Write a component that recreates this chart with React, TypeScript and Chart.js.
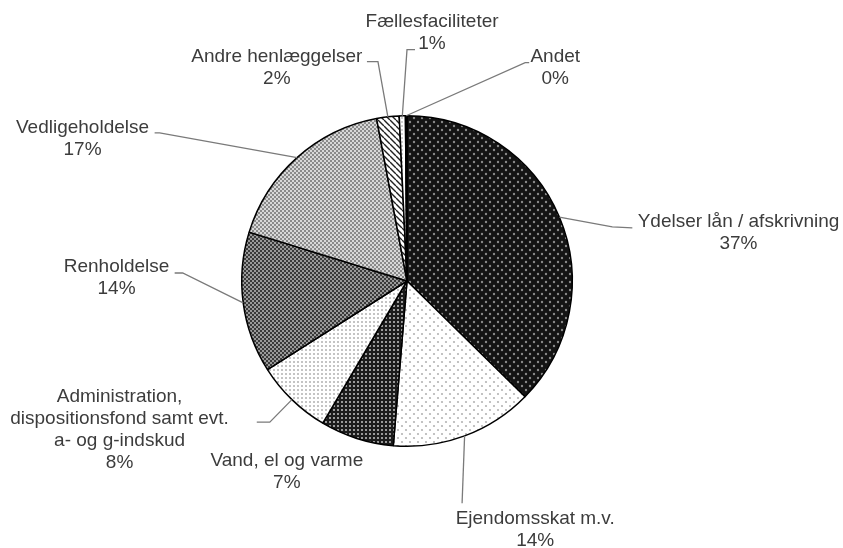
import React, { useEffect, useRef } from "react";
import { Chart, registerables } from "chart.js";
Chart.register(...registerables);

const categories = [
  "Ydelser lån / afskrivning",
  "Ejendomsskat m.v.",
  "Vand, el og varme",
  "Administration, dispositionsfond samt evt. a- og g-indskud",
  "Renholdelse",
  "Vedligeholdelse",
  "Andre henlæggelser",
  "Fællesfaciliteter",
  "Andet",
];
const shares = [37.4, 14.0, 7.2, 7.5, 13.8, 17.3, 2.2, 0.6, 0.15];
const percentLabels = ["37%", "14%", "7%", "8%", "14%", "17%", "2%", "1%", "0%"];
const labelLines = [
  ["Ydelser lån / afskrivning"],
  ["Ejendomsskat m.v."],
  ["Vand, el og varme"],
  ["Administration,", "dispositionsfond samt evt.", "a- og g-indskud"],
  ["Renholdelse"],
  ["Vedligeholdelse"],
  ["Andre henlæggelser"],
  ["Fællesfaciliteter"],
  ["Andet"],
];

// layout (relative to pie centre, px at radius 165)
const labelCenters: [number, number][] = [
  [331, -59], [128, 237], [-120, 179], [-287, 116], [-290, -14],
  [-324, -153], [-130, -224], [25, -259], [148, -224],
];
const leaders: ([number, number][] | null)[] = [
  [[205, -54], [225, -53]],
  [[55, 222], [55, 222]],
  null,
  [[-137, 141], [-150, 141]],
  [[-224, -8], [-232, -8]],
  [[-247, -148], [-252, -148]],
  [[-29, -219], [-40, -219]],
  [[0, -231], [8, -231]],
  [[118, -218], [122, -218]],
];

function makeTile(size: number, draw: (c: CanvasRenderingContext2D) => void) {
  const cv = document.createElement("canvas");
  cv.width = size;
  cv.height = size;
  const c = cv.getContext("2d")!;
  draw(c);
  return c.createPattern(cv, "repeat")!;
}

function buildPatterns() {
  const dots = (bg: string, fg: string, r: number) =>
    makeTile(8, (c) => {
      c.fillStyle = bg;
      c.fillRect(0, 0, 8, 8);
      c.fillStyle = fg;
      for (const [x, y] of [[2, 2], [6, 6]]) {
        c.beginPath();
        c.arc(x, y, r, 0, Math.PI * 2);
        c.fill();
      }
    });
  const checker = (bg: string, fg: string) =>
    makeTile(4, (c) => {
      c.fillStyle = bg;
      c.fillRect(0, 0, 4, 4);
      c.fillStyle = fg;
      c.fillRect(0, 0, 2, 2);
      c.fillRect(2, 2, 2, 2);
    });
  const grid = (bg: string, fg: string) =>
    makeTile(4, (c) => {
      c.fillStyle = bg;
      c.fillRect(0, 0, 4, 4);
      c.fillStyle = fg;
      c.fillRect(1, 1, 2, 2);
    });
  const stripes = makeTile(6, (c) => {
    c.fillStyle = "#ffffff";
    c.fillRect(0, 0, 6, 6);
    c.strokeStyle = "#222";
    c.lineWidth = 1.4;
    c.beginPath();
    for (let k = -6; k <= 12; k += 6) {
      c.moveTo(k, 0);
      c.lineTo(k + 6, 6);
    }
    c.stroke();
  });
  return [
    dots("#141414", "#8a8a8a", 1.2),
    dots("#ffffff", "#b4b4b4", 1.1),
    grid("#1c1c1c", "#9a9a9a"),
    grid("#ffffff", "#c4c4c4"),
    checker("#3a3a3a", "#9a9a9a"),
    checker("#8a8a8a", "#d8d8d8"),
    stripes,
    grid("#ffffff", "#d0d0d0"),
    "#111111",
  ];
}

const FONT = '19px "Liberation Sans", Arial, sans-serif';
const LINE_H = 22;

const labelPlugin = {
  id: "pieLabels",
  afterDraw(chart: any) {
    const ctx: CanvasRenderingContext2D = chart.ctx;
    const meta = chart.getDatasetMeta(0);
    ctx.save();
    meta.data.forEach((arc: any, i: number) => {
      const { x, y, startAngle, endAngle, outerRadius } = arc.getProps(
        ["x", "y", "startAngle", "endAngle", "outerRadius"],
        true
      );
      const s = outerRadius / 165;
      const mid = (startAngle + endAngle) / 2;
      const ex = x + Math.cos(mid) * outerRadius;
      const ey = y + Math.sin(mid) * outerRadius;
      const ld = leaders[i];
      if (ld) {
        ctx.strokeStyle = "#7a7a7a";
        ctx.lineWidth = 1.3;
        ctx.beginPath();
        ctx.moveTo(ex, ey);
        for (const [dx, dy] of ld) ctx.lineTo(x + dx * s, y + dy * s);
        ctx.stroke();
      }
      const [lx, ly] = labelCenters[i];
      const lines = [...labelLines[i], percentLabels[i]];
      ctx.font = FONT;
      ctx.fillStyle = "#3c3c3c";
      ctx.textAlign = "center";
      ctx.textBaseline = "middle";
      lines.forEach((t, k) => {
        ctx.fillText(t, x + lx * s, y + ly * s + k * LINE_H);
      });
    });
    ctx.restore();
  },
};

export default function App() {
  const ref = useRef<HTMLCanvasElement>(null);
  useEffect(() => {
    document.body.style.margin = "0";
    const patterns = buildPatterns();
    const chart = new Chart(ref.current!, {
      type: "pie",
      data: {
        labels: categories,
        datasets: [
          {
            data: shares,
            backgroundColor: patterns as any,
            borderColor: "#000000",
            borderWidth: 1.5,
          },
        ],
      },
      options: {
        animation: false,
        responsive: false,
        events: [],
        layout: { padding: { top: 115, bottom: 101, left: 241, right: 270 } },
        plugins: {
          legend: { display: false },
          tooltip: { enabled: false },
          title: { display: false },
        },
      },
      plugins: [labelPlugin],
    });
    return () => chart.destroy();
  }, []);
  return (
    <div style={{ position: "absolute", left: 0, top: 0, width: 843, height: 548, background: "#fff" }}>
      <canvas ref={ref} width={843} height={548} style={{ width: 843, height: 548 }} />
    </div>
  );
}
